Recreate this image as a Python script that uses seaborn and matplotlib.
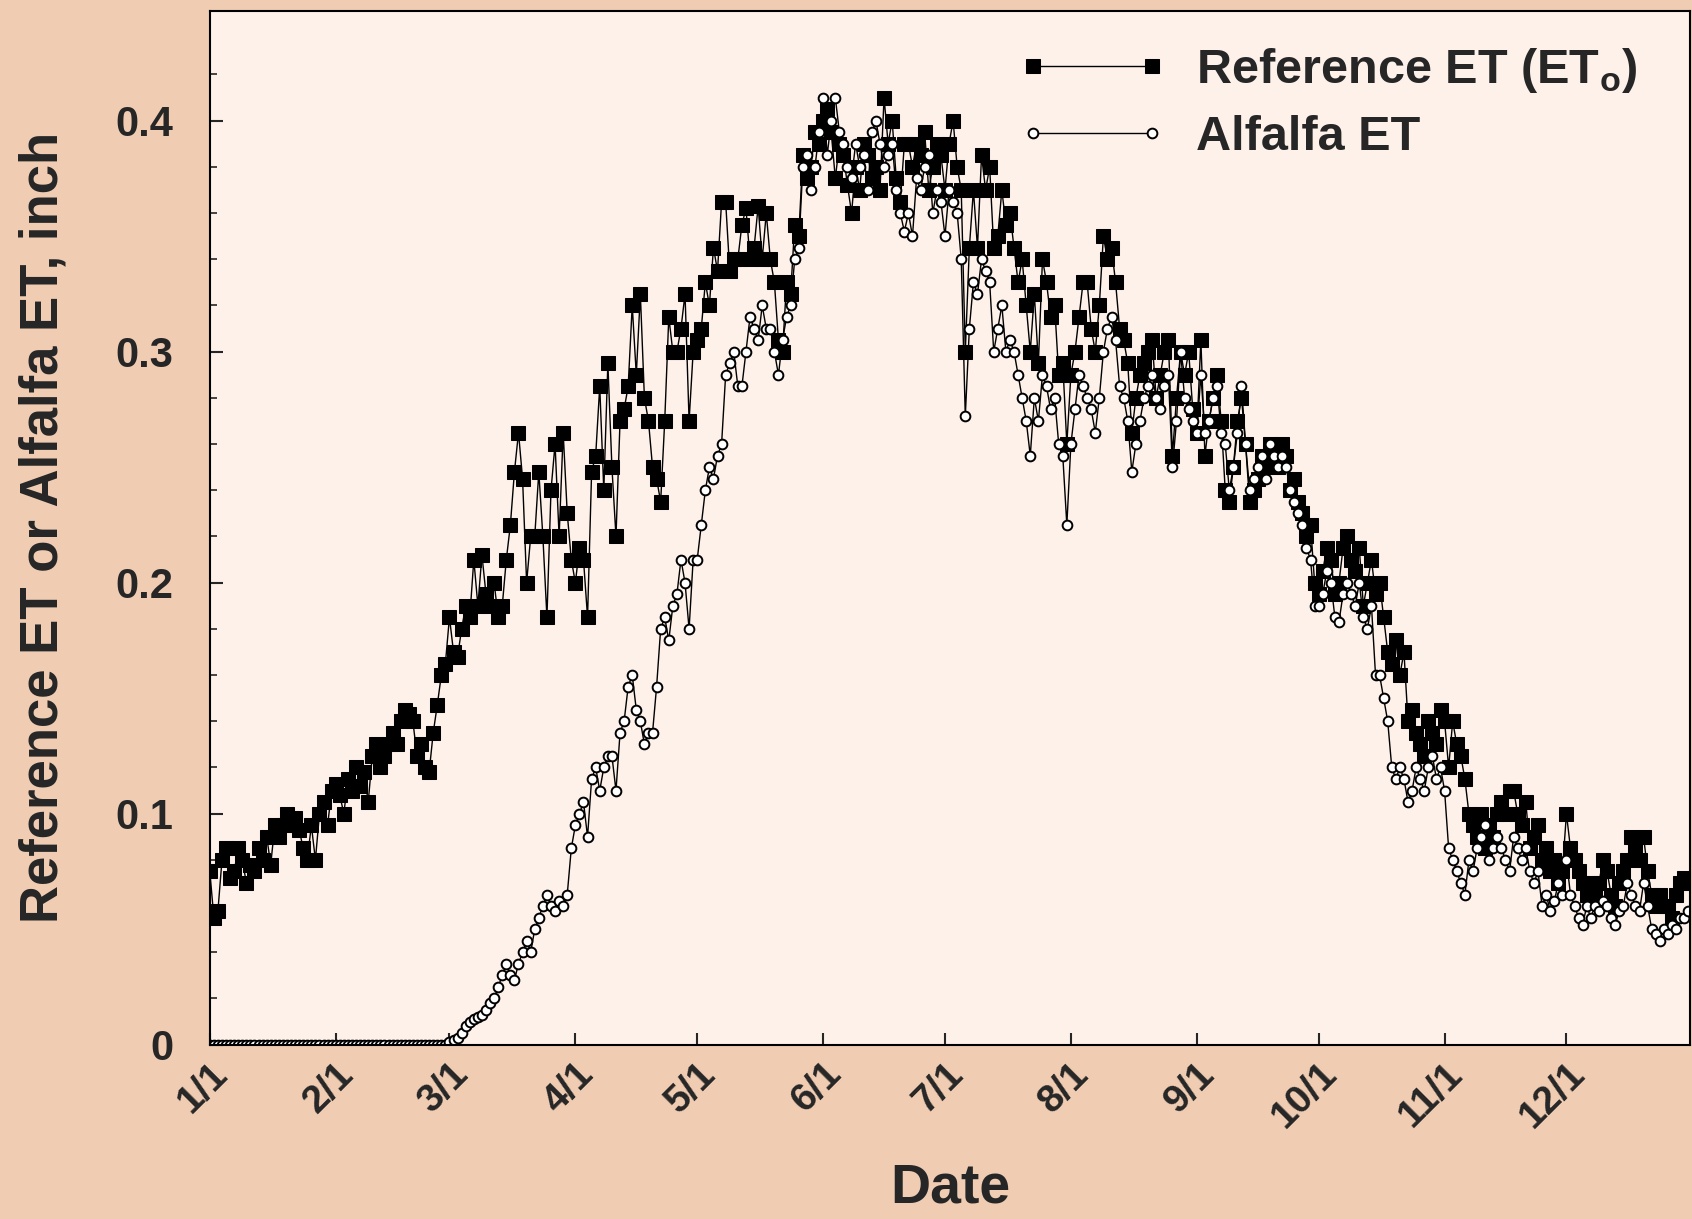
import numpy as np
import pandas as pd
import matplotlib
matplotlib.use("Agg")
import matplotlib.pyplot as plt
import seaborn as sns

# ---- data (daily values, inch) ----
ref_jan = [0.075, 0.055, 0.058, 0.08, 0.085, 0.072, 0.075, 0.085, 0.08, 0.07, 0.078, 0.075, 0.085, 0.08, 0.09, 0.078,
           0.095, 0.09, 0.095, 0.1, 0.095, 0.098, 0.093, 0.085, 0.08, 0.095, 0.08, 0.1, 0.105, 0.095, 0.11]
ref_feb = [0.113, 0.108, 0.1, 0.115, 0.11, 0.12, 0.112, 0.118, 0.105, 0.125, 0.13, 0.12, 0.125, 0.13, 0.135, 0.13,
           0.14, 0.145, 0.143, 0.14, 0.125, 0.13, 0.12, 0.118, 0.135, 0.147, 0.16, 0.165]
ref_mar = [0.185, 0.17, 0.168, 0.18, 0.19, 0.185, 0.21, 0.19, 0.212, 0.195, 0.19, 0.2, 0.185, 0.19, 0.21, 0.225,
           0.248, 0.265, 0.245, 0.2, 0.22, 0.22, 0.248, 0.22, 0.185, 0.24, 0.26, 0.22, 0.265, 0.23, 0.21]
ref_apr = [0.2, 0.215, 0.21, 0.185, 0.248, 0.255, 0.285, 0.24, 0.295, 0.25, 0.22, 0.27, 0.275, 0.285, 0.32, 0.29,
           0.325, 0.28, 0.27, 0.25, 0.245, 0.235, 0.27, 0.315, 0.3, 0.3, 0.31, 0.325, 0.27, 0.3]
ref_may = [0.305, 0.31, 0.33, 0.32, 0.345, 0.335, 0.365, 0.365, 0.335, 0.34, 0.34, 0.355, 0.362, 0.34, 0.345, 0.363,
           0.34, 0.36, 0.34, 0.33, 0.305, 0.3, 0.33, 0.325, 0.355, 0.35, 0.385, 0.375, 0.38, 0.395, 0.39]
ref_jun = [0.4, 0.405, 0.395, 0.375, 0.39, 0.385, 0.372, 0.36, 0.38, 0.37, 0.39, 0.385, 0.375, 0.38, 0.37, 0.41,
           0.39, 0.4, 0.375, 0.365, 0.39, 0.39, 0.38, 0.39, 0.385, 0.395, 0.37, 0.38, 0.39, 0.385]
ref_jul = [0.37, 0.39, 0.4, 0.38, 0.37, 0.3, 0.345, 0.37, 0.345, 0.385, 0.37, 0.38, 0.345, 0.35, 0.37, 0.355,
           0.36, 0.345, 0.33, 0.34, 0.32, 0.3, 0.325, 0.295, 0.34, 0.33, 0.315, 0.32, 0.29, 0.295, 0.26]
ref_aug = [0.29, 0.3, 0.315, 0.33, 0.33, 0.31, 0.3, 0.32, 0.35, 0.34, 0.345, 0.33, 0.31, 0.305, 0.295, 0.265,
           0.28, 0.29, 0.295, 0.3, 0.305, 0.28, 0.29, 0.3, 0.305, 0.255, 0.28, 0.3, 0.29, 0.3, 0.275]
ref_sep = [0.265, 0.305, 0.255, 0.27, 0.28, 0.29, 0.27, 0.24, 0.235, 0.25, 0.27, 0.28, 0.26, 0.235, 0.24, 0.245,
           0.255, 0.25, 0.26, 0.255, 0.25, 0.26, 0.255, 0.24, 0.245, 0.235, 0.23, 0.22, 0.225, 0.2]
ref_oct = [0.195, 0.205, 0.215, 0.21, 0.195, 0.2, 0.215, 0.22, 0.21, 0.205, 0.215, 0.19, 0.2, 0.21, 0.195, 0.2,
           0.185, 0.17, 0.165, 0.175, 0.16, 0.17, 0.14, 0.145, 0.135, 0.13, 0.125, 0.14, 0.135, 0.13, 0.145]
ref_nov = [0.14, 0.12, 0.14, 0.13, 0.125, 0.115, 0.1, 0.095, 0.09, 0.1, 0.085, 0.095, 0.09, 0.1, 0.105, 0.1,
           0.11, 0.11, 0.1, 0.095, 0.105, 0.085, 0.09, 0.095, 0.08, 0.085, 0.075, 0.08, 0.07, 0.075]
ref_dec = [0.1, 0.085, 0.08, 0.075, 0.07, 0.065, 0.07, 0.065, 0.07, 0.08, 0.075, 0.065, 0.06, 0.07, 0.075, 0.08,
           0.09, 0.085, 0.08, 0.09, 0.075, 0.065, 0.06, 0.065, 0.06, 0.06, 0.055, 0.065, 0.07, 0.072, 0.07]

alf_jan = [0.0] * 31
alf_feb = [0.0] * 28
alf_mar = [0.001, 0.002, 0.003, 0.005, 0.008, 0.01, 0.011, 0.012, 0.013, 0.015, 0.018, 0.02, 0.025, 0.03, 0.035, 0.03,
           0.028, 0.035, 0.04, 0.045, 0.04, 0.05, 0.055, 0.06, 0.065, 0.06, 0.058, 0.062, 0.06, 0.065, 0.085]
alf_apr = [0.095, 0.1, 0.105, 0.09, 0.115, 0.12, 0.11, 0.12, 0.125, 0.125, 0.11, 0.135, 0.14, 0.155, 0.16, 0.145,
           0.14, 0.13, 0.135, 0.135, 0.155, 0.18, 0.185, 0.175, 0.19, 0.195, 0.21, 0.2, 0.18, 0.21]
alf_may = [0.21, 0.225, 0.24, 0.25, 0.245, 0.255, 0.26, 0.29, 0.295, 0.3, 0.285, 0.285, 0.3, 0.315, 0.31, 0.305,
           0.32, 0.31, 0.31, 0.3, 0.29, 0.305, 0.315, 0.32, 0.34, 0.345, 0.38, 0.385, 0.37, 0.38, 0.395]
alf_jun = [0.41, 0.385, 0.4, 0.41, 0.395, 0.39, 0.38, 0.375, 0.39, 0.38, 0.385, 0.37, 0.395, 0.4, 0.39, 0.38,
           0.385, 0.39, 0.37, 0.36, 0.352, 0.36, 0.35, 0.375, 0.37, 0.38, 0.385, 0.36, 0.37, 0.365]
alf_jul = [0.35, 0.37, 0.365, 0.36, 0.34, 0.272, 0.31, 0.33, 0.325, 0.34, 0.335, 0.33, 0.3, 0.31, 0.32, 0.3,
           0.305, 0.3, 0.29, 0.28, 0.27, 0.255, 0.28, 0.27, 0.29, 0.285, 0.275, 0.28, 0.26, 0.255, 0.225]
alf_aug = [0.26, 0.275, 0.29, 0.285, 0.28, 0.275, 0.265, 0.28, 0.3, 0.31, 0.315, 0.305, 0.285, 0.28, 0.27, 0.248,
           0.26, 0.27, 0.28, 0.285, 0.29, 0.28, 0.275, 0.285, 0.29, 0.25, 0.27, 0.3, 0.28, 0.275, 0.27]
alf_sep = [0.265, 0.29, 0.265, 0.27, 0.28, 0.285, 0.265, 0.26, 0.24, 0.25, 0.265, 0.285, 0.26, 0.24, 0.245, 0.25,
           0.255, 0.245, 0.26, 0.255, 0.25, 0.255, 0.25, 0.24, 0.235, 0.23, 0.225, 0.215, 0.21, 0.19]
alf_oct = [0.19, 0.195, 0.205, 0.2, 0.185, 0.183, 0.195, 0.2, 0.195, 0.19, 0.2, 0.185, 0.18, 0.19, 0.16, 0.16,
           0.15, 0.14, 0.12, 0.115, 0.12, 0.115, 0.105, 0.11, 0.12, 0.115, 0.11, 0.12, 0.125, 0.115, 0.12]
alf_nov = [0.11, 0.085, 0.08, 0.075, 0.07, 0.065, 0.08, 0.075, 0.085, 0.09, 0.095, 0.08, 0.085, 0.09, 0.085, 0.08,
           0.075, 0.09, 0.085, 0.08, 0.085, 0.075, 0.07, 0.075, 0.06, 0.065, 0.058, 0.062, 0.07, 0.065]
alf_dec = [0.08, 0.065, 0.06, 0.055, 0.052, 0.06, 0.055, 0.06, 0.058, 0.062, 0.06, 0.055, 0.052, 0.058, 0.06, 0.07,
           0.065, 0.06, 0.058, 0.07, 0.06, 0.05, 0.048, 0.045, 0.05, 0.048, 0.052, 0.05, 0.055, 0.055, 0.058]

month_starts = [0, 31, 59, 90, 120, 151, 181, 212, 243, 273, 304, 334]
month_labels = ["1/1", "2/1", "3/1", "4/1", "5/1", "6/1", "7/1", "8/1", "9/1", "10/1", "11/1", "12/1"]
y_ticks = [0, 0.1, 0.2, 0.3, 0.4]
y_tick_labels = ["0", "0.1", "0.2", "0.3", "0.4"]

ref = (ref_jan + ref_feb + ref_mar + ref_apr + ref_may + ref_jun + ref_jul + ref_aug +
       ref_sep + ref_oct + ref_nov + ref_dec)
alf = (alf_jan + alf_feb + alf_mar + alf_apr + alf_may + alf_jun + alf_jul + alf_aug +
       alf_sep + alf_oct + alf_nov + alf_dec)
days = list(range(len(ref)))
df = pd.DataFrame({"day": days, "ref": ref, "alf": alf})

# ---- style ----
sns.set_style("ticks")
plt.rcParams["font.family"] = ["Liberation Sans", "DejaVu Sans"]
plt.rcParams["font.weight"] = "bold"

OUTER = "#EFCCB2"
INNER = "#FDF1EA"

fig = plt.figure(figsize=(16.92, 12.19), dpi=100, facecolor=OUTER)
ax = fig.add_axes([0.124, 0.143, 0.875, 0.848])
ax.set_facecolor(INNER)

sns.lineplot(data=df, x="day", y="ref", ax=ax, color="black", linewidth=1.0,
             marker="s", markersize=10, markerfacecolor="black", markeredgecolor="black",
             label="Reference ET (ET$_\\mathregular{o}$)")
sns.lineplot(data=df, x="day", y="alf", ax=ax, color="black", linewidth=1.0,
             marker="o", markersize=7, markerfacecolor="white", markeredgecolor="black",
             markeredgewidth=1.4, label="Alfalfa ET")

ax.set_xlim(0, 364.5)
ax.set_ylim(0, 0.4475)
ax.set_xticks(month_starts)
ax.set_xticklabels(month_labels, rotation=45, ha="right", rotation_mode="anchor",
                   fontsize=28, fontweight="bold")
ax.set_yticks(y_ticks)
ax.set_yticklabels(y_tick_labels, fontsize=30, fontweight="bold")
ax.set_yticks(np.arange(0, 0.44, 0.02), minor=True)
ax.tick_params(axis="both", which="major", direction="in", length=9, width=1.5)
ax.tick_params(axis="x", which="major", pad=8)
ax.tick_params(axis="y", which="major", pad=26)
ax.tick_params(axis="y", which="minor", direction="in", length=5, width=1.2)
for sp in ax.spines.values():
    sp.set_visible(True)
    sp.set_linewidth(1.5)
    sp.set_color("black")

ax.set_xlabel("Date", fontsize=40, fontweight="bold", labelpad=20)
ax.set_ylabel("Reference ET or Alfalfa ET, inch", fontsize=38, fontweight="bold", labelpad=34)

leg = ax.legend(loc="upper right", frameon=False, fontsize=35, numpoints=2,
                handlelength=3.05, handletextpad=0.6, labelspacing=0.42,
                borderaxespad=0.0, bbox_to_anchor=(0.977, 0.985))
for t in leg.get_texts():
    t.set_fontweight("bold")

fig.savefig("out.png", dpi=100, facecolor=OUTER)
